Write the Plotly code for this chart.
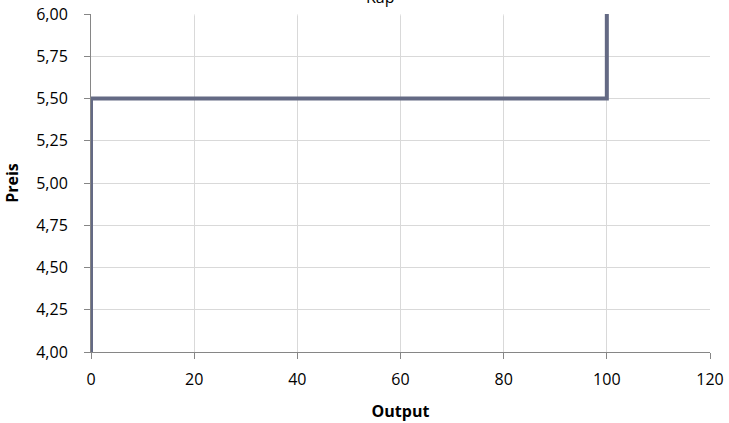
import plotly.graph_objects as go

# Step-shaped capacity curve: price vs output
output = [0, 0, 100, 100]
preis = [4.0, 5.5, 5.5, 6.0]

x_ticks = [0, 20, 40, 60, 80, 100, 120]
y_ticks = [4.00, 4.25, 4.50, 4.75, 5.00, 5.25, 5.50, 5.75, 6.00]

W, H = 729, 423
ML, MR, MT, MB = 91, 19, 14, 71
FONT = "Open Sans"

fig = go.Figure()
fig.add_trace(go.Scatter(
    x=output, y=preis, mode="lines",
    line=dict(color="#646a84", width=4),
    hoverinfo="skip", showlegend=False,
))

axis_common = dict(
    showgrid=True, gridcolor="#d9d9d9", gridwidth=1,
    showline=True, linecolor="#868686", linewidth=1,
    ticks="outside", ticklen=6, tickcolor="#868686",
    zeroline=False,
    tickfont=dict(family=FONT, size=16, color="#000000"),
)

fig.update_xaxes(
    range=[0, 120], tickvals=x_ticks,
    ticklabelstandoff=7,
    title=dict(text="<b>Output</b>", font=dict(family=FONT, size=16, color="#000000"), standoff=16),
    **axis_common,
)
fig.update_yaxes(
    range=[4.0, 6.0], tickvals=y_ticks, tickformat=".2f",
    ticklabelstandoff=13,
    title=dict(text="<b>Preis</b>", font=dict(family=FONT, size=16, color="#000000"), standoff=13),
    **axis_common,
)

plot_w = W - ML - MR
plot_h = H - MT - MB

# Chart title, partly clipped at the top edge
fig.add_annotation(
    text="Kap", xref="paper", yref="paper",
    x=(380 - ML) / plot_w, y=1 + (MT - 10) / plot_h,
    xanchor="center", yanchor="bottom", showarrow=False,
    font=dict(family=FONT, size=16, color="#000000"),
)

# Translucent title backdrop over the top gridline
fig.add_shape(
    type="rect", xref="paper", yref="paper",
    x0=(143 - ML) / plot_w, x1=(571 - ML) / plot_w,
    y0=1 - 1.5 / plot_h, y1=1 + MT / plot_h,
    fillcolor="rgba(255,255,255,0.55)", line=dict(width=0), layer="above",
)

fig.update_layout(
    width=W, height=H,
    margin=dict(l=ML, r=MR, t=MT, b=MB, autoexpand=False),
    paper_bgcolor="white", plot_bgcolor="white",
    separators=",.",
)

fig.write_html("out.html")
